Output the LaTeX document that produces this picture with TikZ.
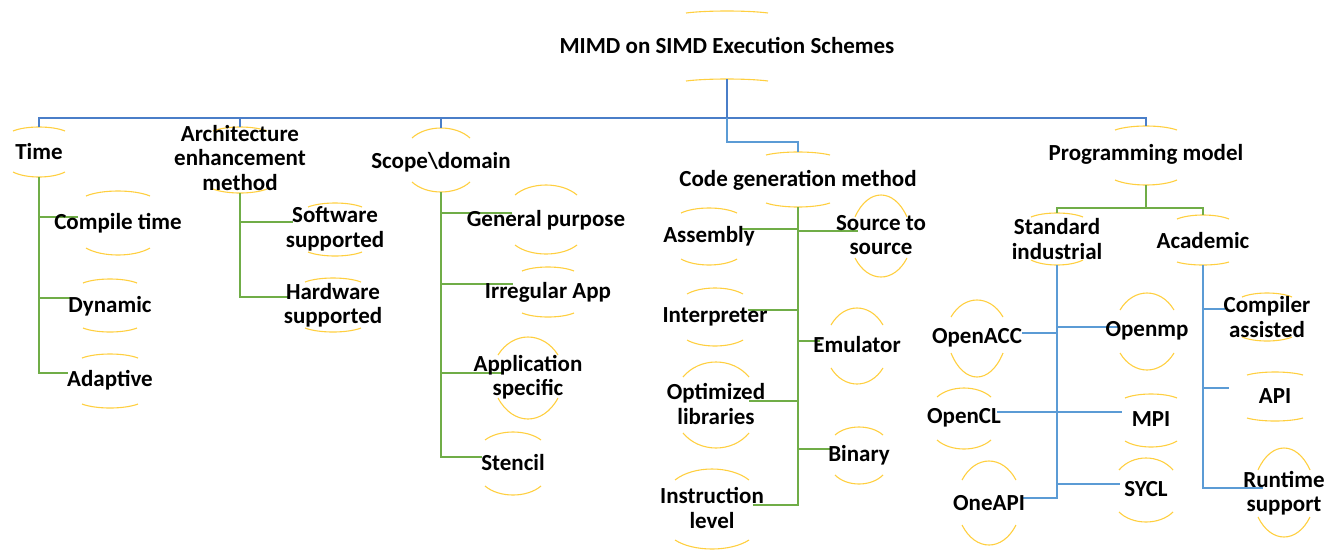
\documentclass[tikz,border=0pt]{standalone}
\usepackage{fontspec}
\setmainfont{Carlito}
\usetikzlibrary{calc}
\definecolor{arcyel}{HTML}{FFCF40}
\definecolor{topblue}{HTML}{4A7EC8}
\definecolor{subblue}{HTML}{5B9BD5}
\definecolor{subgreen}{HTML}{70AD47}
\tikzset{
  arcline/.style={arcyel, line width=1.1pt},
  lbl/.style={font=\fontsize{23}{24.5}\selectfont\bfseries, align=center, inner sep=0pt, anchor=center},
  blueline/.style={topblue, line width=1.6pt},
  thinblue/.style={topblue, line width=1.1pt},
  sblue/.style={subblue, line width=1.1pt},
  gline/.style={subgreen, line width=1.1pt},
}
% name, x, y, text, halfwidth, top peak, top end, bottom end, bottom low
\newcommand\arcnode[9]{%
  \draw[arcline] ({#2-#5},#7) .. controls ({#2-0.5*#5},{(4*#6-#7)/3}) and ({#2+0.5*#5},{(4*#6-#7)/3}) .. ({#2+#5},#7);
  \draw[arcline] ({#2-#5},#8) .. controls ({#2-0.5*#5},{(4*#9-#8)/3}) and ({#2+0.5*#5},{(4*#9-#8)/3}) .. ({#2+#5},#8);
  \coordinate (#1-top) at (#2,#6);
  \coordinate (#1-bot) at (#2,#9);
  \coordinate (#1-c) at (#2,#3);
}
\newcommand\lab[2]{\node[lbl] (#1) at (#1-c) {#2};}
\begin{document}
\begin{tikzpicture}[x=1pt,y=-1pt]
\useasboundingbox (0,0) rectangle (1338,555);
% arcs + anchor coordinates
\arcnode{root}{727}{45}{}{41}{11}{13}{81}{79}
\arcnode{time}{39}{152}{}{26}{127}{131}{172}{177}
\arcnode{arch}{240}{158}{}{27}{127}{131}{189}{193}
\arcnode{scope}{441}{162}{}{29}{128}{138}{182}{192}
\arcnode{cg}{798}{180}{}{32}{152}{155}{203}{207}
\arcnode{pm}{1146}{154}{}{31}{126}{130}{180}{185}
\arcnode{std}{1057}{239}{}{26}{213}{217}{260}{265}
\arcnode{acad}{1203}{241}{}{26}{215}{219}{262}{265}
\arcnode{compile}{118}{223}{}{32}{191}{196}{248}{255}
\arcnode{dynamic}{110}{306}{}{27}{279}{283}{328}{332}
\arcnode{adaptive}{110}{380}{}{28}{354}{358}{404}{408}
\arcnode{software}{335}{229}{}{27}{203}{207}{252}{256}
\arcnode{hardware}{333}{305}{}{28}{278}{282}{328}{332}
\arcnode{general}{546}{220}{}{31}{185}{195}{245}{254}
\arcnode{irregular}{548}{292}{}{26}{267}{271}{313}{317}
\arcnode{appspec}{528}{377}{}{30}{337}{355}{398}{419}
\arcnode{stencil}{513}{463}{}{28}{432}{440}{486}{495}
\arcnode{assembly}{709}{236}{}{28}{208}{213}{259}{265}
\arcnode{interp}{715}{317}{}{28}{288}{294}{340}{346}
\arcnode{optlib}{716}{404}{}{33}{362}{377}{433}{448}
\arcnode{instr}{712}{508}{}{37}{469}{480}{540}{549}
\arcnode{srcsrc}{881}{235}{}{26}{195}{217}{258}{277}
\arcnode{emul}{857}{345}{}{26}{308}{325}{368}{384}
\arcnode{binary}{859}{455}{}{24}{427}{435}{475}{484}
\arcnode{openacc}{977}{338}{}{26}{300}{317}{353}{377}
\arcnode{openmp}{1147}{331}{}{27}{293}{310}{353}{370}
\arcnode{opencl}{964}{418}{}{27}{388}{397}{440}{449}
\arcnode{mpi}{1151}{419}{}{26}{394}{398}{441}{447}
\arcnode{oneapi}{989}{503}{}{27}{461}{480}{525}{545}
\arcnode{sycl}{1146}{489}{}{27}{458}{470}{512}{522}
\arcnode{compiler}{1267}{317}{}{25}{293}{297}{337}{341}
\arcnode{api}{1275}{396}{}{28}{372}{375}{418}{421}
\arcnode{runtime}{1284}{493}{}{26}{448}{470}{517}{537}
% junction coordinates
\coordinate (bus) at (727,118);
\coordinate (cgk) at (727,142);
\coordinate (pmk) at (1146,208);
\coordinate (compile-in) at (78,217);
\coordinate (dynamic-in) at (70,298);
\coordinate (adaptive-in) at (68,373);
\coordinate (software-in) at (293,222);
\coordinate (hardware-in) at (290,297);
\coordinate (general-in) at (512,213);
\coordinate (irregular-in) at (513,284);
\coordinate (appspec-in) at (503,373);
\coordinate (stencil-in) at (482,457);
\coordinate (assembly-in) at (742,229);
\coordinate (interp-in) at (748,310);
\coordinate (optlib-in) at (749,401);
\coordinate (instr-in) at (753,505);
\coordinate (srcsrc-in) at (858,231);
\coordinate (emul-in) at (820,341);
\coordinate (binary-in) at (830,449);
\coordinate (openacc-in) at (1022,333);
\coordinate (openmp-in) at (1120,327);
\coordinate (opencl-in) at (997,412);
\coordinate (mpi-in) at (1122,412);
\coordinate (oneapi-in) at (1022,498);
\coordinate (sycl-in) at (1120,484);
\coordinate (compiler-in) at (1225,309);
\coordinate (api-in) at (1229,388);
\coordinate (runtime-in) at (1263,488);
% top level connectors
\draw[blueline] (root-bot) -- (bus);
\draw[thinblue] (bus) -| (time-top);
\draw[blueline] (bus) -| (arch-top);
\draw[blueline] (bus) -| (scope-top);
\draw[blueline] (bus) -| (pm-top);
\draw[sblue] (bus) -- (cgk) -| (cg-top);
% green subtrees
\foreach \c in {compile,dynamic,adaptive} \draw[gline] (time-bot) |- (\c-in);
\foreach \c in {software,hardware} \draw[gline] (arch-bot) |- (\c-in);
\foreach \c in {general,irregular,appspec,stencil} \draw[gline] (scope-bot) |- (\c-in);
\foreach \c in {assembly,interp,optlib,instr,srcsrc,emul,binary} \draw[gline] (cg-bot) |- (\c-in);
\draw[gline] (pm-bot) -- (pmk) -| (std-top);
\draw[gline] (pmk) -| (acad-top);
% blue subtrees
\foreach \c in {openacc,openmp,opencl,mpi,oneapi,sycl} \draw[sblue] (std-bot) |- (\c-in);
\foreach \c in {compiler,api,runtime} \draw[sblue] (acad-bot) |- (\c-in);
% labels
\lab{root}{MIMD on SIMD Execution Schemes}
\lab{time}{Time}
\lab{arch}{Architecture\\enhancement\\method}
\lab{scope}{Scope\textbackslash domain}
\lab{cg}{Code generation method}
\lab{pm}{Programming model}
\lab{std}{Standard\\industrial}
\lab{acad}{Academic}
\lab{compile}{Compile time}
\lab{dynamic}{Dynamic}
\lab{adaptive}{Adaptive}
\lab{software}{Software\\supported}
\lab{hardware}{Hardware\\supported}
\lab{general}{General purpose}
\lab{irregular}{Irregular App}
\lab{appspec}{Application\\specific}
\lab{stencil}{Stencil}
\lab{assembly}{Assembly}
\lab{interp}{Interpreter}
\lab{optlib}{Optimized\\libraries}
\lab{instr}{Instruction\\level}
\lab{srcsrc}{Source to\\source}
\lab{emul}{Emulator}
\lab{binary}{Binary}
\lab{openacc}{OpenACC}
\lab{openmp}{Openmp}
\lab{opencl}{OpenCL}
\lab{mpi}{MPI}
\lab{oneapi}{OneAPI}
\lab{sycl}{SYCL}
\lab{compiler}{Compiler\\assisted}
\lab{api}{API}
\lab{runtime}{Runtime\\support}
\end{tikzpicture}
\end{document}
